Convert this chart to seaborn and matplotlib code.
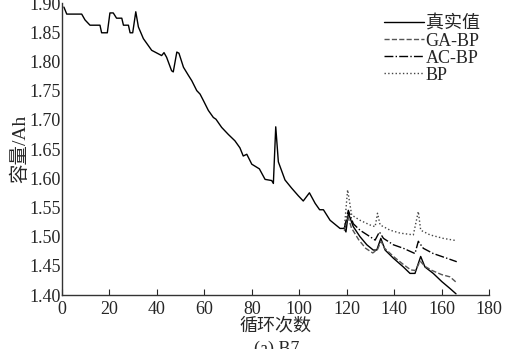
import matplotlib
matplotlib.use("Agg")
import matplotlib.pyplot as plt
import numpy as np
import pandas as pd
import seaborn as sns

# measured capacity (true value)
real_x = [0.8, 2.0, 8.3, 9.7, 11.8, 16.0, 16.7, 19.1, 20.2, 21.6, 23.0, 25.2, 25.9, 28.0, 28.7, 29.8,
          31.1, 32.2, 34.3, 37.8, 42.0, 43.0, 44.1, 46.2, 46.9, 48.4, 49.3, 51.2, 53.3, 54.7, 56.8, 58.2,
          59.6, 61.7, 63.8, 64.9, 67.3, 70.1, 72.9, 75.0, 76.4, 77.9, 80.0, 83.2, 85.6, 88.4, 89.1, 90.1,
          91.2, 94.0, 96.8, 99.6, 101.7, 104.3, 106.7, 108.6, 110.2, 113.0, 117.2, 119.0, 119.7, 120.7,
          122.8, 125.6, 128.5, 131.2, 132.7, 134.4, 136.2, 139.7, 143.9, 146.7, 148.8, 151.2, 153.0,
          156.5, 160.1, 163.6, 166.1]
real_y = [1.893, 1.881, 1.881, 1.871, 1.862, 1.862, 1.849, 1.849, 1.883, 1.883, 1.874, 1.874, 1.862,
          1.862, 1.849, 1.849, 1.885, 1.859, 1.839, 1.819, 1.810, 1.815, 1.807, 1.784, 1.782, 1.816,
          1.814, 1.790, 1.776, 1.767, 1.750, 1.744, 1.733, 1.716, 1.704, 1.701, 1.687, 1.675, 1.664,
          1.652, 1.638, 1.641, 1.624, 1.616, 1.598, 1.596, 1.591, 1.688, 1.628, 1.597, 1.583, 1.570,
          1.561, 1.575, 1.557, 1.546, 1.546, 1.528, 1.514, 1.514, 1.508, 1.540, 1.517, 1.500, 1.486,
          1.477, 1.477, 1.497, 1.477, 1.463, 1.448, 1.437, 1.437, 1.466, 1.448, 1.437, 1.423, 1.411,
          1.402]

ga_x = [119.0, 120.5, 122.0, 125.0, 128.0, 131.0, 133.0, 134.5, 136.0, 140.0, 144.0, 147.0, 149.0,
        151.0, 153.0, 156.0, 160.0, 163.6, 166.4]
ga_y = [1.510, 1.535, 1.515, 1.495, 1.480, 1.472, 1.478, 1.492, 1.480, 1.465, 1.452, 1.443, 1.442,
        1.458, 1.449, 1.442, 1.435, 1.431, 1.421]

ac_x = [119.0, 120.7, 122.8, 125.6, 129.8, 132.0, 133.8, 135.5, 139.7, 143.9, 148.8, 150.2, 152.3,
        156.5, 162.2, 166.4]
ac_y = [1.514, 1.545, 1.522, 1.511, 1.500, 1.494, 1.508, 1.497, 1.486, 1.480, 1.471, 1.492, 1.480,
        1.471, 1.463, 1.457]

bp_x = [119.0, 120.4, 122.1, 125.6, 129.8, 132.0, 133.0, 134.1, 138.3, 142.5, 148.1, 150.2, 151.2,
        155.1, 160.7, 166.4]
bp_y = [1.514, 1.580, 1.537, 1.528, 1.520, 1.517, 1.540, 1.520, 1.511, 1.506, 1.503, 1.543, 1.511,
        1.503, 1.497, 1.493]

x_ticks = list(range(0, 181, 20))
y_ticks = [1.40, 1.45, 1.50, 1.55, 1.60, 1.65, 1.70, 1.75, 1.80, 1.85, 1.90]

sns.set_style("ticks")
plt.rcParams['font.family'] = ['Liberation Serif', 'Noto Sans CJK SC']
plt.rcParams['font.size'] = 13

fig = plt.figure(figsize=(5.07, 3.49), dpi=100)
ax = fig.add_axes([0.1223, 0.1547, 0.8422, 0.8367])

series = [
    ("真实值", real_x, real_y, "black", "-"),
    ("GA-BP", ga_x, ga_y, "#555555", "--"),
    ("AC-BP", ac_x, ac_y, "black", "-."),
    ("BP", bp_x, bp_y, "#444444", ":"),
]
for name, xs, ys, col, ls in series:
    df = pd.DataFrame({"cycle": xs, "cap": ys})
    sns.lineplot(data=df, x="cycle", y="cap", ax=ax, color=col, linestyle=ls,
                 linewidth=1.0, label=name, sort=False)

ax.set_xlim(0, 180)
ax.set_ylim(1.40, 1.90)
ax.set_xticks(x_ticks)
ax.set_yticks(y_ticks)
ax.set_yticklabels([f"{v:.2f}" for v in y_ticks])
ax.tick_params(axis='x', direction='in', length=4, width=0.8, pad=4, labelsize=13)
ax.tick_params(axis='y', direction='in', length=0, pad=1, labelsize=13)
for s in ["top", "right"]:
    ax.spines[s].set_visible(False)
for s in ["left", "bottom"]:
    ax.spines[s].set_color("#333333")
    ax.spines[s].set_linewidth(1.0)

ax.set_xlabel("循环次数", fontsize=13, labelpad=0)
ax.set_ylabel("容量/Ah", fontsize=14, labelpad=0)

ax.legend(loc="upper left", bbox_to_anchor=(0.725, 1.0), frameon=False, fontsize=13,
          handlelength=2.2, handletextpad=0.1, labelspacing=0.0, borderpad=0.2)

fig.text(0.546, 0.025, "(a) B7", ha="center", va="top", fontsize=13)

fig.savefig("out.png", dpi=100)
